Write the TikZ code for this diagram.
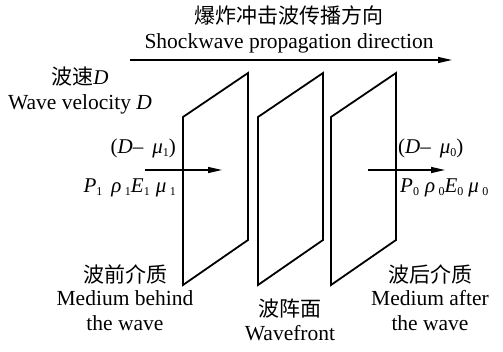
\documentclass[tikz,border=0pt]{standalone}
\usepackage{fontspec}
\setmainfont{Liberation Serif}
\newfontfamily\cjk{Noto Sans CJK SC}
\usetikzlibrary{arrows.meta,positioning}
\newcommand{\lowidx}[1]{\raisebox{-3pt}{\fontsize{12}{12}\selectfont #1}}

\begin{document}
\begin{tikzpicture}[
      x=1pt, y=-1pt,
      zh/.style={font=\fontsize{21}{24}\selectfont\cjk, inner sep=0pt},
      en/.style={font=\fontsize{21.5}{24}\selectfont, inner sep=0pt, align=center},
      qty/.style={font=\fontsize{21}{24}\selectfont, inner sep=0pt},
      panel/.style={line width=1.8pt, line join=miter},
      arrow/.style={-{Triangle[length=14pt,width=6pt]}, line width=1.3pt},
    ]
    \useasboundingbox (0,0) rectangle (503,351);

    % the three wave planes
    \foreach \xl in {183,258,331}
      \draw[panel] (\xl,117) -- (\xl+65,73) -- (\xl+65,240) -- (\xl,285) -- cycle;

    % propagation direction
    \node[zh] (title) at (289,15) {爆炸冲击波传播方向};
    \node[en, below=8pt of title] (titleen) {Shockwave propagation direction};
    \coordinate (dirs) at (130,60);
    \coordinate (dire) at (452,60);
    \draw[arrow] (dirs) -- (dire);

    % wave velocity
    \node[zh] (vel) at (80,77) {波速{\rmfamily\itshape D}};
    \node[en, below=7pt of vel] (velen) {Wave velocity \textit{D}};

    % flow through the first plane
    \coordinate (ins) at (145,170);
    \coordinate (ine) at (222,170);
    \draw[arrow] (ins) -- (ine);
    \node[qty, anchor=east] (rel1) at (176,148) {(\textit{D}–\hspace{9pt}\textit{μ}\lowidx{1})};
    \node[qty, anchor=east] (st1) at (176,188) {\textit{P}\lowidx{1}\hspace{9pt}\textit{ρ}\,\lowidx{1}\textit{E}\lowidx{1}\hspace{6pt}\textit{μ}\,\lowidx{1}};

    % flow through the last plane
    \coordinate (outs) at (368,170);
    \coordinate (oute) at (445,170);
    \draw[arrow] (outs) -- (oute);
    \node[qty, anchor=west] (rel0) at (398,148) {(\textit{D}–\hspace{9pt}\textit{μ}\lowidx{0})};
    \node[qty, anchor=west] (st0) at (400,188) {\textit{P}\lowidx{0}\hspace{6pt}\textit{ρ}\,\lowidx{0}\textit{E}\lowidx{0}\hspace{5pt}\textit{μ}\,\lowidx{0}};

    % media and front
    \node[zh] (behind) at (125,274) {波前介质};
    \node[en, below=6pt of behind] (behinden) {Medium behind\\[1pt]the wave};
    \node[zh] (front) at (290,309) {波阵面};
    \node[en, below=6pt of front] (fronten) {Wavefront};
    \node[zh] (after) at (430,274) {波后介质};
    \node[en, below=6pt of after] (afteren) {Medium after\\[1pt]the wave};
\end{tikzpicture}
\end{document}
